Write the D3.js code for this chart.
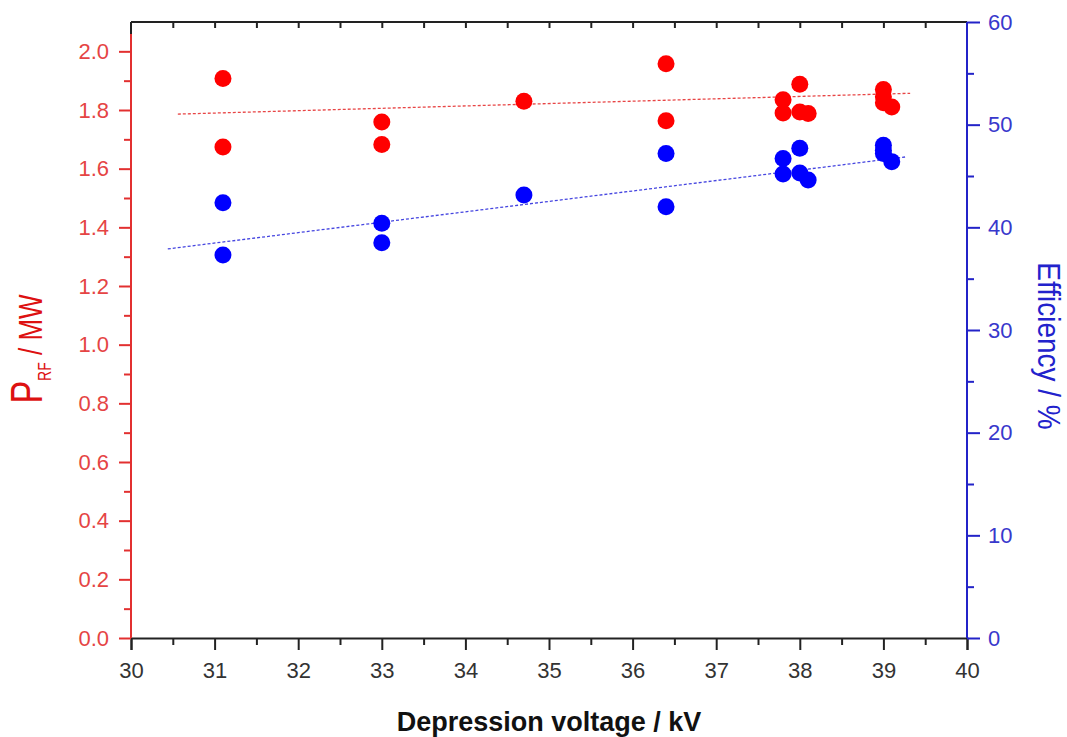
<!DOCTYPE html>
<html>
<head>
<meta charset="utf-8">
<script src="https://cdn.jsdelivr.net/npm/d3@7"></script>
<style>
  html, body { margin: 0; padding: 0; background: #fff; }
  svg { display: block; font-family: Arial, "Liberation Sans", sans-serif; }
</style>
</head>
<body>
<svg id="chart" width="1067" height="737"></svg>
<script>
// Depression voltage (kV) for each measurement
const voltage = [31.1, 31.1, 33, 33, 34.7, 36.4, 36.4, 37.8, 37.8, 38, 38, 38.1, 39, 39, 39, 39.1];
// RF output power (MW)
const powerRF = [1.907, 1.674, 1.759, 1.682, 1.830, 1.958, 1.763, 1.835, 1.790, 1.888, 1.793, 1.788, 1.870, 1.845, 1.825, 1.810];
// Efficiency (%)
const efficiency = [42.4, 37.3, 40.4, 38.5, 43.15, 47.2, 42.0, 46.7, 45.2, 47.7, 45.3, 44.6, 48.0, 47.5, 47.2, 46.4];

// Linear trend lines: [voltage, value] at both ends
const powerFit = [[30.56, 1.786], [39.32, 1.857]];
const effFit = [[30.44, 37.9], [39.26, 46.85]];

const xTicks = [30, 31, 32, 33, 34, 35, 36, 37, 38, 39, 40];
const powerTicks = [0.0, 0.2, 0.4, 0.6, 0.8, 1.0, 1.2, 1.4, 1.6, 1.8, 2.0];
const effTicks = [0, 10, 20, 30, 40, 50, 60];

const RED = "#e23030", RED_TXT = "#e54444", BLUE = "#2323c8", BLUE_TXT = "#3838cc";

const svg = d3.select("#chart");
const L = 131, R = 967, T = 22, B = 638;

const x = d3.scaleLinear().domain([30, 40]).range([L, R]);
const yP = d3.scaleLinear().domain([0, 2.1]).range([B, T]);
const yE = d3.scaleLinear().domain([0, 60]).range([B, T]);

// frame
svg.append("line").attr("x1", L).attr("x2", R).attr("y1", T).attr("y2", T)
  .attr("stroke", "#222").attr("stroke-width", 2);
svg.append("line").attr("x1", L).attr("x2", L).attr("y1", T).attr("y2", B)
  .attr("stroke", "#222").attr("stroke-width", 2);

// top axis: short inward ticks
const topAxis = d3.axisTop(x).tickValues(d3.range(30.5, 40, 0.5)).tickSize(-6).tickFormat("");
const gTop = svg.append("g").attr("transform", `translate(0,${T})`).call(topAxis);
gTop.select(".domain").remove();
gTop.selectAll("line").attr("stroke", "#222").attr("stroke-width", 2);

// bottom axis
const gx = svg.append("g").attr("transform", `translate(0,${B})`)
  .call(d3.axisBottom(x).tickValues(xTicks).tickSize(12).tickPadding(12).tickFormat(d3.format("d")));
gx.call(g => g.select(".domain").attr("stroke", "#222").attr("stroke-width", 2));
gx.selectAll(".tick line").attr("stroke", "#222").attr("stroke-width", 2);
gx.selectAll("text").attr("fill", "#333").attr("font-size", 22);
svg.append("g").attr("transform", `translate(0,${B})`)
  .call(d3.axisBottom(x).tickValues(d3.range(30.5, 40, 1)).tickSize(7).tickFormat(""))
  .call(g => g.select(".domain").remove())
  .selectAll("line").attr("stroke", "#222").attr("stroke-width", 2);

// left axis (power)
const gl = svg.append("g").attr("transform", `translate(${L},0)`)
  .call(d3.axisLeft(yP).tickValues(powerTicks).tickSize(12).tickPadding(10).tickFormat(d3.format(".1f")));
gl.select(".domain").attr("d", `M0,${B}V${T + 12}`).attr("stroke", RED).attr("stroke-width", 2);
gl.selectAll(".tick line").attr("stroke", RED).attr("stroke-width", 2);
gl.selectAll("text").attr("fill", RED_TXT).attr("font-size", 22);
svg.append("g").attr("transform", `translate(${L},0)`)
  .call(d3.axisLeft(yP).tickValues(d3.range(0.1, 2.0, 0.2)).tickSize(7).tickFormat(""))
  .call(g => g.select(".domain").remove())
  .selectAll("line").attr("stroke", RED).attr("stroke-width", 2);

// right axis (efficiency)
const gr = svg.append("g").attr("transform", `translate(${R},0)`)
  .call(d3.axisRight(yE).tickValues(effTicks).tickSize(13).tickPadding(8).tickFormat(d3.format("d")));
gr.select(".domain").attr("d", `M0,${B}V${T}`).attr("stroke", BLUE).attr("stroke-width", 2);
gr.selectAll(".tick line").attr("stroke", BLUE).attr("stroke-width", 2);
gr.selectAll("text").attr("fill", BLUE_TXT).attr("font-size", 22);
svg.append("g").attr("transform", `translate(${R},0)`)
  .call(d3.axisRight(yE).tickValues(d3.range(5, 60, 10)).tickSize(7).tickFormat(""))
  .call(g => g.select(".domain").remove())
  .selectAll("line").attr("stroke", BLUE).attr("stroke-width", 2);

// trend lines
const fitLine = (ys) => d3.line().x(d => x(d[0])).y(d => ys(d[1]));
svg.append("path").datum(powerFit).attr("d", fitLine(yP))
  .attr("fill", "none").attr("stroke", "#e84545").attr("stroke-width", 1.3).attr("stroke-dasharray", "3,2");
svg.append("path").datum(effFit).attr("d", fitLine(yE))
  .attr("fill", "none").attr("stroke", "#4545e0").attr("stroke-width", 1.3).attr("stroke-dasharray", "3,2");

// data points
const pts = voltage.map((v, i) => ({ v, p: powerRF[i], e: efficiency[i] }));
svg.append("g").selectAll("circle").data(pts).join("circle")
  .attr("cx", d => x(d.v)).attr("cy", d => yP(d.p)).attr("r", 8.5).attr("fill", "#ff0000");
svg.append("g").selectAll("circle").data(pts).join("circle")
  .attr("cx", d => x(d.v)).attr("cy", d => yE(d.e)).attr("r", 8.5).attr("fill", "#0000ff");

// axis titles
svg.append("text").attr("x", 549).attr("y", 731).attr("text-anchor", "middle")
  .attr("font-size", 27).attr("font-weight", "bold").attr("fill", "#111")
  .text("Depression voltage / kV");

const pl = svg.append("text")
  .attr("transform", "translate(42,349) rotate(-90) scale(1,1.3)")
  .attr("text-anchor", "middle").attr("fill", "#dd1111").attr("font-size", 26);
pl.append("tspan").attr("font-size", 34).text("P");
pl.append("tspan").attr("font-size", 14).attr("dy", 7).text("RF");
pl.append("tspan").attr("dy", -7).text(" / MW");

svg.append("text")
  .attr("transform", "translate(1038,346) rotate(90) scale(1,1.12)")
  .attr("text-anchor", "middle").attr("fill", "#2222cc").attr("font-size", 28)
  .text("Efficiency / %");
</script>
</body>
</html>
